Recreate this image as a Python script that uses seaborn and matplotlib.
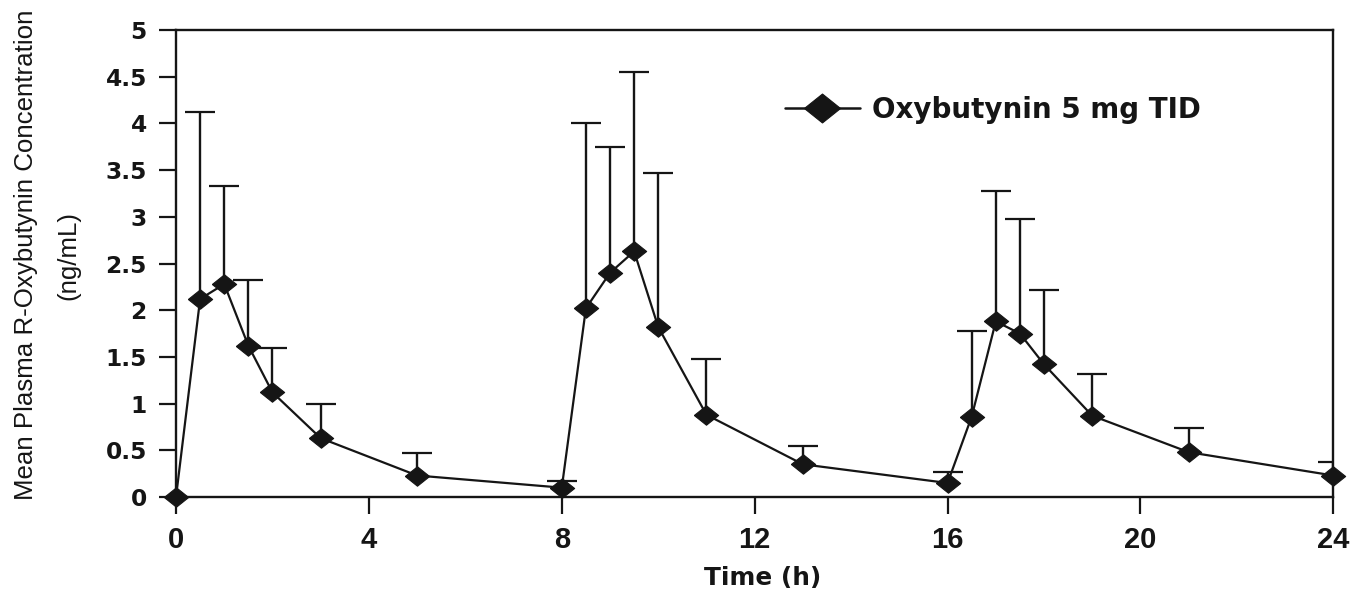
import matplotlib
matplotlib.use("Agg")
import matplotlib.pyplot as plt
import seaborn as sns
import numpy as np
import pandas as pd

# Data
time_h = [0, 0.5, 1, 1.5, 2, 3, 5, 8, 8.5, 9, 9.5, 10, 11, 13,
          16, 16.5, 17, 17.5, 18, 19, 21, 24]
mean_conc = [0.0, 2.12, 2.28, 1.62, 1.12, 0.63, 0.23, 0.10, 2.02, 2.40, 2.63, 1.82, 0.88, 0.35,
             0.15, 0.86, 1.88, 1.75, 1.42, 0.87, 0.48, 0.23]
upper_sd = [0.0, 4.12, 3.33, 2.32, 1.60, 1.00, 0.47, 0.17, 4.00, 3.75, 4.55, 3.47, 1.48, 0.55,
            0.27, 1.78, 3.28, 2.98, 2.22, 1.32, 0.74, 0.38]
series_label = "Oxybutynin 5 mg TID"
x_ticks = [0, 4, 8, 12, 16, 20, 24]
y_ticks = [0, 0.5, 1, 1.5, 2, 2.5, 3, 3.5, 4, 4.5, 5]
y_tick_labels = ["0", "0.5", "1", "1.5", "2", "2.5", "3", "3.5", "4", "4.5", "5"]

sns.set_theme(style="ticks")
plt.rcParams["font.family"] = ["Liberation Sans", "DejaVu Sans"]

INK = "#151515"
df = pd.DataFrame({"Time": time_h, "Conc": mean_conc, "Upper": upper_sd})

fig = plt.figure(figsize=(13.56, 5.98), dpi=100)
ax = fig.add_axes([0.1298, 0.1689, 0.8535, 0.7809])

# one-sided (upper) error bars
err = np.clip(df["Upper"].values - df["Conc"].values, 0, None)
mask = err > 0
eb = ax.errorbar(df["Time"][mask], df["Conc"][mask],
                 yerr=[np.zeros(mask.sum()), err[mask]],
                 fmt="none", ecolor=INK, elinewidth=1.7, capsize=11, capthick=1.6, zorder=2)
eb.lines[1][0].set_visible(False)  # hide lower caps

# slightly flattened diamond like the reference
diamond = [(-1, 0), (0, 0.8), (1, 0), (0, -0.8), (-1, 0)]
sns.lineplot(data=df, x="Time", y="Conc", ax=ax, color=INK, linewidth=1.6,
             marker=diamond, markersize=17.5, markeredgewidth=0.8,
             markeredgecolor=INK, markerfacecolor=INK,
             label=series_label, zorder=3, clip_on=False)

ax.set_xlim(0, 24)
ax.set_ylim(0, 5)
ax.set_xticks(x_ticks)
ax.set_xticklabels([str(t) for t in x_ticks])
ax.set_yticks(y_ticks)
ax.set_yticklabels(y_tick_labels)

for sp in ax.spines.values():
    sp.set_visible(True)
    sp.set_color(INK)
    sp.set_linewidth(1.7)

ax.tick_params(axis="both", direction="out", length=12.5, width=1.6, color=INK)
ax.tick_params(axis="x", pad=8.5)
ax.tick_params(axis="y", pad=8.5)
for lab in ax.get_xticklabels():
    lab.set_fontfamily(["Liberation Sans", "DejaVu Sans"])
    lab.set_fontsize(21)
    lab.set_fontweight("bold")
    lab.set_color(INK)
for lab in ax.get_yticklabels():
    lab.set_fontfamily(["DejaVu Sans"])
    lab.set_fontsize(16.8)
    lab.set_fontweight("bold")
    lab.set_color(INK)

ax.set_xlabel("Time (h)", fontsize=17.8, fontweight="bold", color=INK,
              family=["DejaVu Sans"])
ax.xaxis.set_label_coords(0.507, -0.148)
ax.set_ylabel("Mean Plasma R-Oxybutynin Concentration\n(ng/mL)", fontsize=18.6,
              color=INK, linespacing=1.95, family=["Liberation Sans", "DejaVu Sans"])
ax.yaxis.set_label_coords(-0.083, 0.518)

leg = ax.legend(loc="center left", bbox_to_anchor=(0.526, 0.829), frameon=False,
                prop={"family": "DejaVu Sans", "weight": "bold", "size": 20},
                handlelength=2.7, handletextpad=0.43, borderpad=0, borderaxespad=0)
for t in leg.get_texts():
    t.set_color(INK)
for h in leg.legend_handles:
    h.set_markersize(26)
    h.set_linewidth(1.8)

fig.savefig("out.png", dpi=100, facecolor="white")
